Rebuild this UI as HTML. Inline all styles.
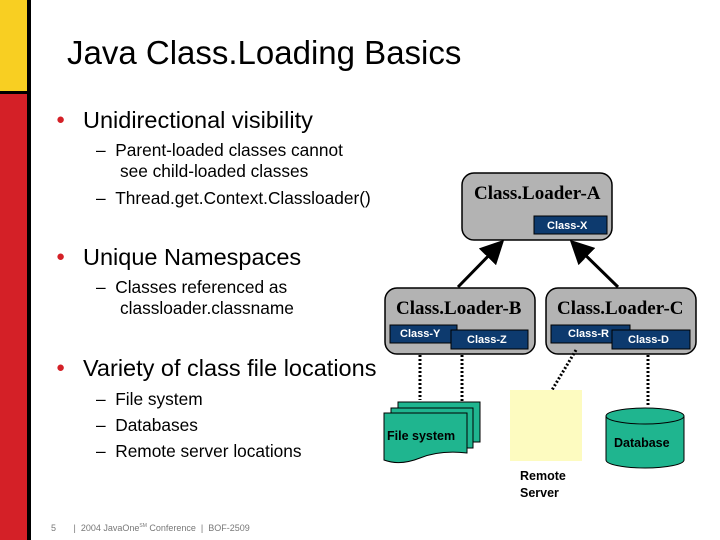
<!DOCTYPE html>
<html><head><style>
body{margin:0;width:720px;height:540px;overflow:hidden;background:#fff;font-family:"Liberation Sans",Arial,sans-serif;position:relative}
.a{position:absolute;white-space:nowrap}
.b{color:#d42027;font-size:15px;position:absolute;left:0;top:4px}
</style></head><body>
<div class="a" style="left:0;top:0;width:27px;height:91px;background:#f8cf22"></div>
<div class="a" style="left:0;top:91px;width:27px;height:3px;background:#000"></div>
<div class="a" style="left:0;top:94px;width:27px;height:446px;background:#d42027"></div>
<div class="a" style="left:27px;top:0;width:4px;height:540px;background:#000"></div>
<div class="a" style="left:67px;top:34px;font-size:33px">Java Class.Loading Basics</div>

<div class="a" style="left:56px;top:107px;font-size:23.5px"><span class="b">●</span><span style="margin-left:27px">Unidirectional visibility</span></div>
<div class="a" style="left:96px;top:140px;font-size:17.3px;line-height:21px">– &nbsp;Parent-loaded classes cannot<br>&nbsp;&nbsp;&nbsp;&nbsp;&nbsp;see child-loaded classes</div>
<div class="a" style="left:96px;top:188px;font-size:17.3px;line-height:21px">– &nbsp;Thread.get.Context.Classloader()</div>

<div class="a" style="left:56px;top:244px;font-size:23.5px"><span class="b">●</span><span style="margin-left:27px">Unique Namespaces</span></div>
<div class="a" style="left:96px;top:277px;font-size:17.3px;line-height:21px">– &nbsp;Classes referenced as<br>&nbsp;&nbsp;&nbsp;&nbsp;&nbsp;classloader.classname</div>

<div class="a" style="left:56px;top:355px;font-size:23.5px"><span class="b">●</span><span style="margin-left:27px">Variety of class file locations</span></div>
<div class="a" style="left:96px;top:386px;font-size:17.3px;line-height:26px">– &nbsp;File system<br>– &nbsp;Databases<br>– &nbsp;Remote server locations</div>

<svg class="a" style="left:0;top:0" width="720" height="540">
<defs><marker id="ar" markerWidth="8" markerHeight="8" refX="6" refY="4" orient="auto"><path d="M0,0L8,4L0,8z" fill="#000"/></marker></defs>
<g stroke="#000" stroke-width="1.5" fill="#b3b3b3">
<rect x="462" y="173" width="150" height="67" rx="12"/>
<rect x="385" y="288" width="150" height="66" rx="12"/>
<rect x="546" y="288" width="150" height="66" rx="12"/>
</g>
<g font-family="Liberation Serif,serif" font-weight="bold" font-size="19" fill="#000">
<text x="474" y="199">Class.Loader-A</text>
<text x="396" y="314">Class.Loader-B</text>
<text x="557" y="314">Class.Loader-C</text>
</g>
<g fill="#0d3a6e" stroke="#000" stroke-width="1">
<rect x="534" y="216" width="73" height="18"/>
<rect x="390" y="325" width="67" height="18"/>
<rect x="451" y="330" width="77" height="19"/>
<rect x="551" y="325" width="79" height="18"/>
<rect x="612" y="330" width="78" height="19"/>
</g>
<g font-family="Liberation Sans,sans-serif" font-weight="bold" font-size="11" fill="#fff">
<text x="547" y="229">Class-X</text>
<text x="400" y="337">Class-Y</text>
<text x="467" y="343">Class-Z</text>
<text x="568" y="337">Class-R</text>
<text x="628" y="343">Class-D</text>
</g>
<g stroke="#000" stroke-width="3">
<line x1="458" y1="287" x2="500" y2="244" marker-end="url(#ar)"/>
<line x1="618" y1="287" x2="574" y2="244" marker-end="url(#ar)"/>
</g>
<g stroke="#000" stroke-width="3" stroke-dasharray="2,2">
<line x1="420" y1="355" x2="420" y2="400"/>
<line x1="462" y1="355" x2="462" y2="405"/>
<line x1="576" y1="350" x2="552" y2="390"/>
<line x1="648" y1="355" x2="648" y2="405"/>
</g>
<g fill="#1fb58f" stroke="#000" stroke-width="1">
<rect x="398" y="402" width="82" height="40"/>
<rect x="391" y="408" width="82" height="40"/>
<path d="M384,413H467V453Q440,450 420,458T384,460Z"/>
<path d="M606,416V460A39,8 0 0 0 684,460V416"/>
<ellipse cx="645" cy="416" rx="39" ry="8"/>
</g>
<rect x="510" y="390" width="72" height="71" fill="#fdfbc0"/>
<g font-family="Liberation Sans,sans-serif" font-weight="bold" font-size="12.5" fill="#000">
<text x="387" y="440">File system</text>
<text x="614" y="447">Database</text>
<text x="520" y="480">Remote</text>
<text x="520" y="497">Server</text>
</g>
</svg>
<div class="a" style="left:51px;top:523px;font-size:9px;color:#777">5 &nbsp; &nbsp; &nbsp; | &nbsp;2004 JavaOne<sup style="font-size:5px">SM</sup> Conference &nbsp;| &nbsp;BOF-2509</div>
</body></html>
